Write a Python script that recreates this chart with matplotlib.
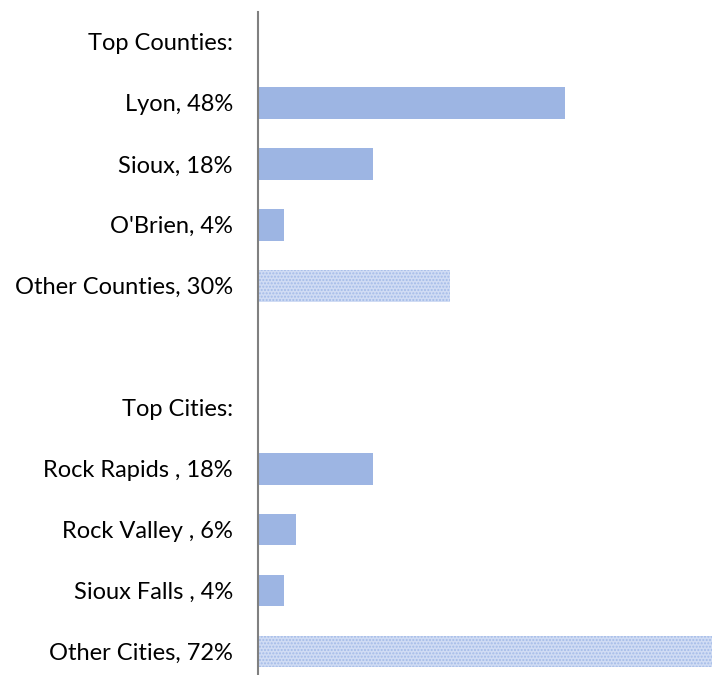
import matplotlib
matplotlib.use("Agg")
import matplotlib.pyplot as plt

labels = ["Top Counties:", "Lyon, 48%", "Sioux, 18%", "O'Brien, 4%", "Other Counties, 30%", "",
          "Top Cities:", "Rock Rapids , 18%", "Rock Valley , 6%", "Sioux Falls , 4%", "Other Cities, 72%"]
values = [0, 48, 18, 4, 30, 0, 0, 18, 6, 4, 72]
hatched = [False, False, False, False, True, False, False, False, False, False, True]

plt.rcParams['font.family'] = ['Lato', 'DejaVu Sans']
plt.rcParams['hatch.linewidth'] = 1.0
W, H = 712, 675
fig = plt.figure(figsize=(W/100, H/100), dpi=100)
left = 258 / W
top_px = 11.5
bot_px = 682
ax = fig.add_axes([left, (H - bot_px) / H, 1 - left, (bot_px - top_px) / H])

pos = list(range(len(labels)))
for p, v, h in zip(pos, values, hatched):
    if v == 0:
        continue
    if h:
        ax.barh(p, v, height=0.52, color='#d0dcf4', edgecolor='#a3bbe8',
                hatch='.....', linewidth=0)
    else:
        ax.barh(p, v, height=0.52, color='#9db5e3', linewidth=0)

ax.set_ylim(len(labels) - 0.5, -0.5)
ax.set_xlim(0, 454 / 6.4)
ax.set_yticks(pos)
ax.set_yticklabels(labels, fontsize=17, color='#000000')
ax.tick_params(axis='y', length=0, pad=18)
ax.set_xticks([])
for s in ['top', 'right', 'bottom']:
    ax.spines[s].set_visible(False)
ax.spines['left'].set_color('#808080')
ax.spines['left'].set_linewidth(1.5)
fig.savefig("out.png", dpi=100)
